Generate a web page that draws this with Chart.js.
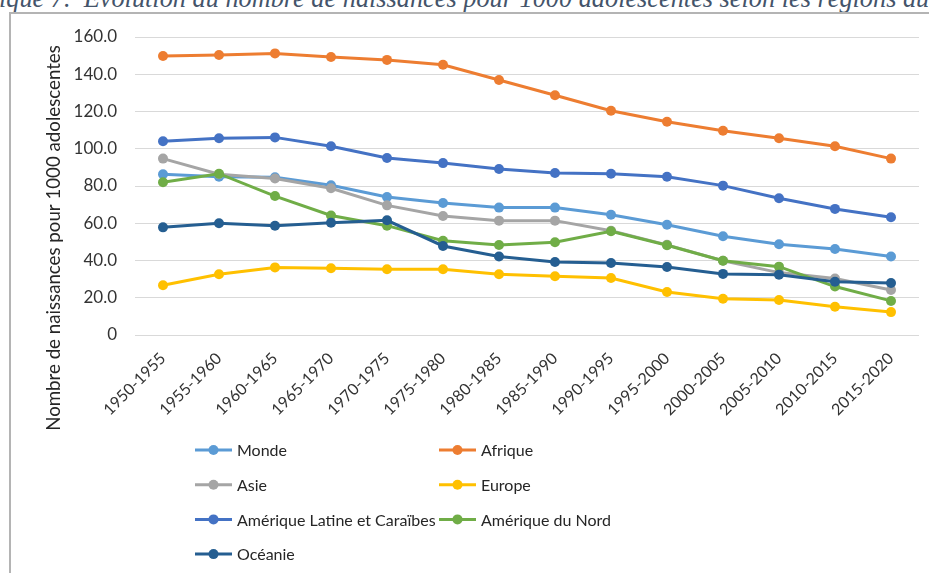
<!DOCTYPE html>
<html>
<head>
<meta charset="utf-8">
<script src="https://cdn.jsdelivr.net/npm/chart.js@4"></script>
<style>
  body { margin: 0; background: #fff; width: 929px; height: 573px; overflow: hidden; position: relative; }
  #caption { position: absolute; left: -1px; top: -16px; font: italic 26.3px "Liberation Serif", serif; color: #44546a; white-space: nowrap; }
  #frame { position: absolute; left: 9px; top: 12px; right: -5px; bottom: -5px; border-left: 2px solid #b4b4b4; border-top: 2px solid #b4b4b4; }
  #myChart { position: absolute; left: 0; top: 0; }
</style>
</head>
<body>
<div id="caption">ique 7.&nbsp; Evolution du nombre de naissances pour 1000 adolescentes selon les régions du</div>
<div id="frame"></div>
<canvas id="myChart" width="929" height="573"></canvas>
<script>
const periods = ["1950-1955", "1955-1960", "1960-1965", "1965-1970", "1970-1975", "1975-1980", "1980-1985",
  "1985-1990", "1990-1995", "1995-2000", "2000-2005", "2005-2010", "2010-2015", "2015-2020"];
const yTicks = [0, 20, 40, 60, 80, 100, 120, 140, 160];

const monde = [86.3, 85.0, 84.7, 80.4, 74.1, 70.9, 68.4, 68.4, 64.6, 59.2, 53.0, 48.7, 46.2, 42.1];
const afrique = [149.8, 150.3, 151.2, 149.3, 147.7, 145.1, 136.9, 128.7, 120.4, 114.5, 109.7, 105.6, 101.3, 94.7];
const asie = [94.7, 86.3, 84.0, 78.8, 69.6, 63.9, 61.4, 61.4, 56.0, 48.4, 39.9, 33.5, 30.3, 24.2];
const europe = [26.7, 32.6, 36.3, 35.8, 35.3, 35.3, 32.6, 31.5, 30.6, 23.1, 19.5, 18.8, 15.2, 12.3];
const ameriqueLatine = [104.0, 105.6, 106.1, 101.3, 95.0, 92.3, 89.1, 87.0, 86.6, 85.0, 80.2, 73.4, 67.7, 63.2];
const ameriqueNord = [82.0, 86.6, 74.6, 64.2, 58.7, 50.6, 48.3, 49.8, 55.7, 48.2, 39.9, 36.7, 26.0, 18.3];
const oceanie = [57.8, 60.0, 58.7, 60.3, 61.6, 47.8, 42.1, 39.2, 38.7, 36.5, 32.8, 32.4, 28.6, 27.9];

const series = [
  { label: "Monde", data: monde, color: "#5b9bd5" },
  { label: "Afrique", data: afrique, color: "#ed7d31" },
  { label: "Asie", data: asie, color: "#a5a5a5" },
  { label: "Europe", data: europe, color: "#ffc000" },
  { label: "Amérique Latine et Caraïbes", data: ameriqueLatine, color: "#4472c4" },
  { label: "Amérique du Nord", data: ameriqueNord, color: "#70ad47" },
  { label: "Océanie", data: oceanie, color: "#255e91" },
];

const FONT = "Lato";

// legend in two columns, like the office chart
const gridLegend = {
  id: "gridLegend",
  afterDraw(chart) {
    const ctx = chart.ctx;
    const colX = [195, 439];
    ctx.save();
    chart.data.datasets.forEach((ds, i) => {
      const x = colX[i % 2];
      const y = 450 + Math.floor(i / 2) * 34.7;
      ctx.strokeStyle = ds.borderColor;
      ctx.lineWidth = 3;
      ctx.beginPath();
      ctx.moveTo(x, y);
      ctx.lineTo(x + 37, y);
      ctx.stroke();
      ctx.fillStyle = ds.borderColor;
      ctx.beginPath();
      ctx.arc(x + 18.5, y, 5, 0, Math.PI * 2);
      ctx.fill();
      ctx.fillStyle = "#262626";
      ctx.font = "16px " + FONT;
      ctx.textBaseline = "middle";
      ctx.fillText(ds.label, x + 42, y + 1);
    });
    ctx.restore();
  },
};

// y axis title, centred on plot + labels
const yTitle = {
  id: "yTitle",
  afterDraw(chart) {
    const ctx = chart.ctx;
    ctx.save();
    ctx.translate(54, 238);
    ctx.rotate(-Math.PI / 2);
    ctx.font = "18.7px " + FONT;
    ctx.fillStyle = "#262626";
    ctx.textAlign = "center";
    ctx.textBaseline = "middle";
    ctx.fillText("Nombre de naissances pour 1000 adolescentes", 0, 0);
    ctx.restore();
  },
};

const ctx = document.getElementById("myChart");
new Chart(ctx, {
  type: "line",
  data: {
    labels: periods,
    datasets: series.map((s, i) => ({
      label: s.label,
      data: s.data,
      borderColor: s.color,
      backgroundColor: s.color,
      pointBackgroundColor: s.color,
      pointBorderColor: s.color,
      pointRadius: 5,
      pointBorderWidth: 0,
      borderWidth: 3,
      tension: 0,
      order: series.length - i,
    })),
  },
  options: {
    responsive: false,
    animation: false,
    devicePixelRatio: 1,
    layout: { padding: { left: 0, top: 37, right: 10, bottom: 0 } },
    plugins: {
      legend: { display: false },
      tooltip: { enabled: false },
    },
    scales: {
      x: {
        offset: true,
        grid: { display: false, offset: true },
        border: { display: false },
        ticks: {
          minRotation: 45,
          maxRotation: 45,
          autoSkip: false,
          padding: 6,
          color: "#333333",
          font: { family: FONT, size: 16 },
        },
        afterFit(scale) { scale.height = 238; },
      },
      y: {
        min: yTicks[0],
        max: yTicks[yTicks.length - 1],
        afterBuildTicks(scale) { scale.ticks = yTicks.map(v => ({ value: v })); },
        grid: { color: "#d9d9d9", lineWidth: 1, drawTicks: false },
        border: { display: false },
        ticks: {
          padding: 18,
          color: "#333333",
          font: { family: FONT, size: 17 },
          callback: v => (v === 0 ? "0" : v.toFixed(1)),
        },
        afterFit(scale) { scale.width = 135; },
      },
    },
  },
  plugins: [gridLegend, yTitle],
});
</script>
</body>
</html>
